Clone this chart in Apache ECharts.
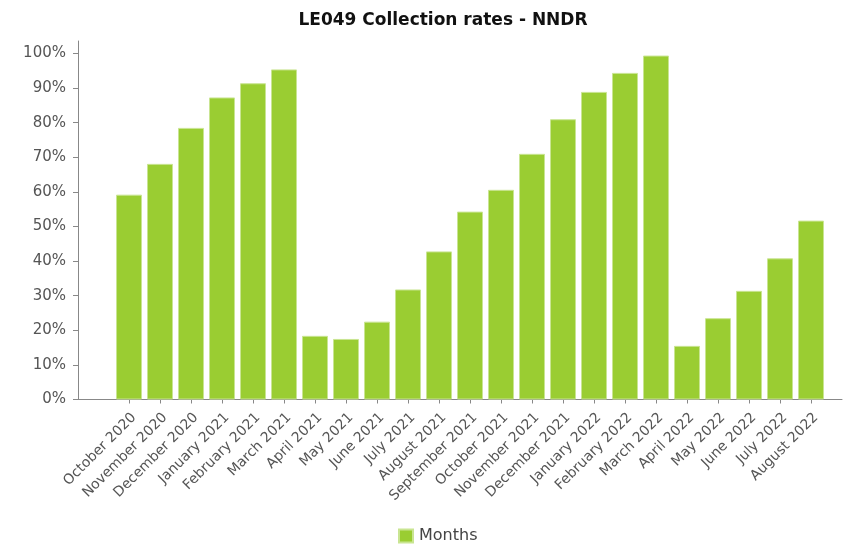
<!DOCTYPE html>
<html>
<head>
<meta charset="utf-8">
<script src="https://cdn.jsdelivr.net/npm/echarts@6/dist/echarts.min.js"></script>
<style>html,body{margin:0;padding:0;background:#fff}#c{width:850px;height:547px}</style>
</head>
<body>
<div id="c"></div>
<script>
var titleText = 'LE049 Collection rates - NNDR';
var seriesName = 'Months';
var categories = ['October 2020','November 2020','December 2020','January 2021','February 2021','March 2021','April 2021','May 2021','June 2021','July 2021','August 2021','September 2021','October 2021','November 2021','December 2021','January 2022','February 2022','March 2022','April 2022','May 2022','June 2022','July 2022','August 2022'];
var values = [59.2, 68.1, 78.5, 87.3, 91.4, 95.4, 18.4, 17.5, 22.5, 31.8, 42.8, 54.3, 60.6, 71.0, 81.0, 88.9, 94.4, 99.4, 15.5, 23.5, 31.4, 40.8, 51.7];
var yTicks = [0, 10, 20, 30, 40, 50, 60, 70, 80, 90, 100];

var chart = echarts.init(document.getElementById('c'), null, {renderer: 'canvas'});
var font = 'DejaVu Sans';
chart.setOption({
  backgroundColor: '#ffffff',
  animation: false,
  title: {
    text: titleText,
    left: 438,
    top: 7,
    textAlign: 'center',
    textStyle: {fontFamily: font, fontSize: 17, fontWeight: 'bold', color: '#111'}
  },
  legend: {
    data: [seriesName],
    left: 398,
    top: 528,
    padding: 0,
    icon: 'rect',
    itemWidth: 14,
    itemHeight: 13,
    textStyle: {fontFamily: font, fontSize: 16, color: '#444', padding: [0,0,0,1]}
  },
  grid: [
    {left: 113.5, width: 713, top: 53.5, bottom: 147.5, containLabel: false},
    {left: 78, right: 8, top: 41, bottom: 147.5, containLabel: false}
  ],
  xAxis: [
    {
      type: 'category', gridIndex: 0, data: categories,
      axisLine: {show: false},
      axisTick: {show: true, alignWithLabel: true, length: 4, lineStyle: {color: '#888'}},
      axisLabel: {interval: 0, rotate: 45, margin: 11, verticalAlign: 'top', fontFamily: font, fontSize: 14, color: '#555'},
      splitLine: {show: false}
    },
    {
      type: 'value', gridIndex: 1, min: 0, max: 1,
      axisLine: {show: true, lineStyle: {color: '#888', width: 1}},
      axisTick: {show: false}, axisLabel: {show: false}, splitLine: {show: false}
    }
  ],
  yAxis: [
    {
      type: 'value', gridIndex: 0, min: yTicks[0], max: yTicks[yTicks.length - 1], interval: yTicks[1] - yTicks[0],
      offset: 35.5,
      axisLine: {show: false},
      axisTick: {show: true, length: 5, lineStyle: {color: '#888'}},
      axisLabel: {formatter: '{value}%', margin: 12, fontFamily: font, fontSize: 15, color: '#555'},
      splitLine: {show: false}
    },
    {
      type: 'value', gridIndex: 1, min: 0, max: 1,
      axisLine: {show: true, lineStyle: {color: '#888', width: 1}},
      axisTick: {show: false}, axisLabel: {show: false}, splitLine: {show: false}
    }
  ],
  series: [{
    name: seriesName,
    type: 'bar',
    xAxisIndex: 0, yAxisIndex: 0,
    data: values,
    barWidth: 26,
    itemStyle: {color: '#9acd32', borderColor: '#c9e592', borderWidth: 1}
  }]
});
</script>
</body>
</html>
